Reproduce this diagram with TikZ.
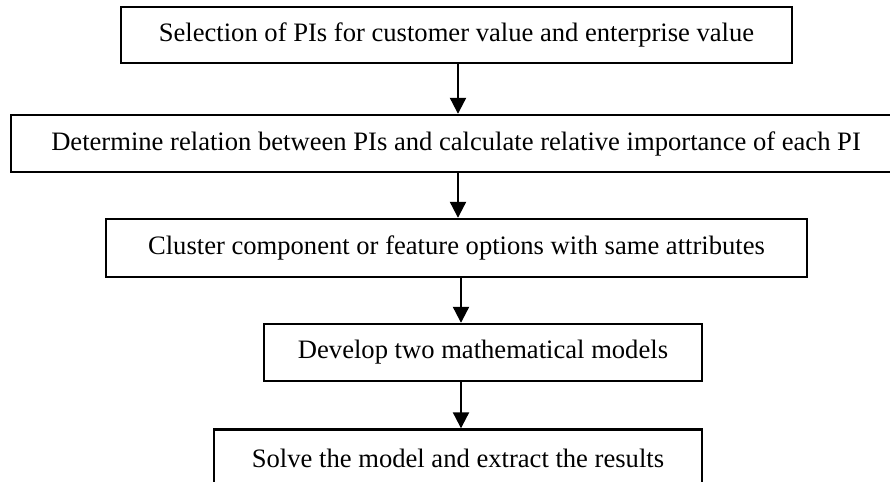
\documentclass[tikz,border=0pt]{standalone}
\usepackage{fontspec}
\setmainfont{Liberation Serif}
\usetikzlibrary{arrows.meta}
\tikzset{
  stepbox/.style={draw=black, line width=1.2pt, rectangle, inner sep=0pt, font=\fontsize{13.3pt}{15pt}\selectfont, fill=white},
  arr/.style={line width=1.1pt, -{Triangle[length=8pt,width=8pt]}}
}
\begin{document}
\begin{tikzpicture}[x=0.5pt,y=-0.5pt]
\useasboundingbox (0,0) rectangle (890,482);
\node[stepbox, minimum width=335.5pt, minimum height=28pt] (b1) at (456.5,35) {Selection of PIs for customer value and enterprise value};
\node[stepbox, minimum width=445pt, minimum height=28.5pt] (b2) at (456,143.5) {Determine relation between PIs and calculate relative importance of each PI};
\node[stepbox, minimum width=350.5pt, minimum height=29pt] (b3) at (456.5,248) {Cluster component or feature options with same attributes};
\node[stepbox, minimum width=219pt, minimum height=28.5pt] (b4) at (483,352.5) {Develop two mathematical models};
\node[stepbox, minimum width=244pt, minimum height=28.5pt] (b5) at (458,458) {Solve the model and extract the results};
\coordinate (xa) at (458,0);
\coordinate (xb) at (461,0);
\draw[arr] (b1.south -| xa) -- (b2.north -| xa);
\draw[arr] (b2.south -| xa) -- (b3.north -| xa);
\draw[arr] (b3.south -| xb) -- (b4.north -| xb);
\draw[arr] (b4.south -| xb) -- (b5.north -| xb);
\end{tikzpicture}
\end{document}
